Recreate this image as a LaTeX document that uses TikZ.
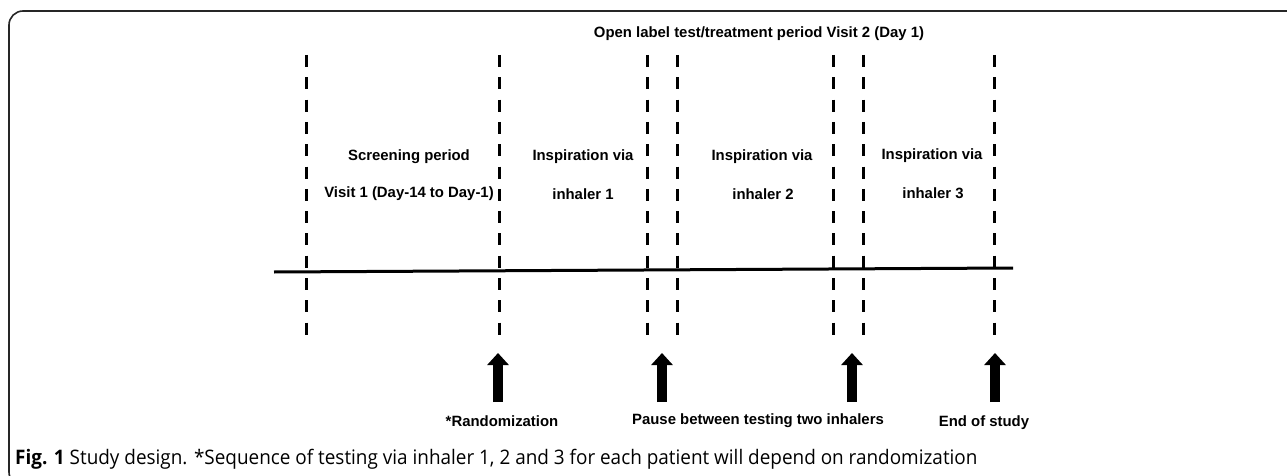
\documentclass[tikz,border=0pt]{standalone}
\usepackage{fontspec}
\setmainfont{Liberation Sans}
\newfontfamily\capfont{Open Sans}
\usetikzlibrary{arrows.meta}
\begin{document}
\begin{tikzpicture}[x=1pt,y=-1pt,
  lbl/.style={font=\fontsize{14.9}{16}\selectfont\bfseries, inner sep=0pt, anchor=center},
  vdash/.style={line width=3pt, dash pattern=on 12pt off 10.3pt},
  bigarrow/.style={line width=10pt, -{Triangle[width=21pt,length=12pt]}},
  frame/.style={line width=1.6pt, draw=black!85, rounded corners=14pt}]
\useasboundingbox (0,0) rectangle (1287,476);
\fill[white] (0,0) rectangle (1287,476);
% frame
\draw[frame] (1300,11) -- (9,11) -- (9,486) -- (40,486);
% vertical dashed lines
\foreach \i/\x in {1/306,2/499,3/647,4/677,5/833,6/863,7/994}{
  \coordinate (t\i) at (\x,55);
  \coordinate (b\i) at (\x,336);
  \draw[vdash] (t\i) -- (b\i);
}
% timeline
\coordinate (L) at (274,272);
\coordinate (R) at (1013,268);
\draw[line width=3pt] (L) -- (R);
% arrows
\foreach \i/\x in {1/498,2/662,3/852,4/995}{
  \coordinate (as\i) at (\x,402);
  \coordinate (ae\i) at (\x,353);
  \draw[bigarrow] (as\i) -- (ae\i);
}
% labels
\node[lbl] (top) at (759,34) {Open label test/treatment period Visit 2 (Day 1)};
\node[lbl] (s1) at (409,157) {Screening period};
\node[lbl] (s2) at (409,194) {Visit 1 (Day-14 to Day-1)};
\node[lbl] (i1a) at (583,157) {Inspiration via};
\node[lbl] (i1b) at (583,194) {inhaler 1};
\node[lbl] (i2a) at (762,157) {Inspiration via};
\node[lbl] (i2b) at (763,194) {inhaler 2};
\node[lbl] (i3a) at (932,156) {Inspiration via};
\node[lbl] (i3b) at (933,193) {inhaler 3};
\node[lbl] (r) at (502,421) {*Randomization};
\node[lbl] (p) at (758,421) {Pause between testing two inhalers};
\node[lbl] (e) at (984,423) {End of study};
% caption
\node[inner sep=0pt, anchor=base west, font=\capfont\fontsize{20}{22}\selectfont] (cap) at (15,464)
  {\scalebox{0.946}[1]{\textbf{Fig. 1} Study design. *Sequence of testing via inhaler 1, 2 and 3 for each patient will depend on randomization}};
\end{tikzpicture}
\end{document}
